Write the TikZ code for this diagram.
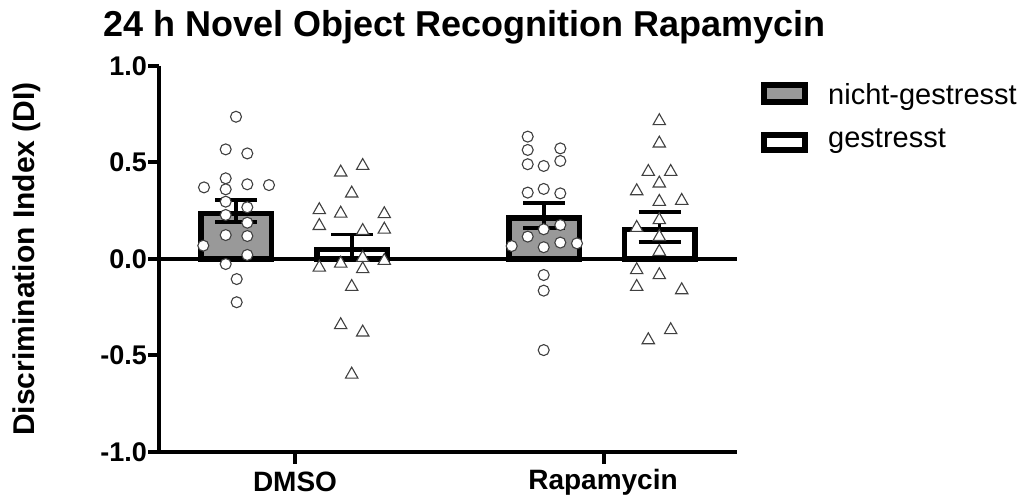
\documentclass[tikz,border=0pt]{standalone}
\usepackage{fontspec}
\setmainfont{Liberation Sans}
\definecolor{barfill}{RGB}{153,153,153}
\definecolor{markline}{RGB}{64,64,64}
\begin{document}
\begin{tikzpicture}[x=1pt,y=1pt,
  axisline/.style={line width=4pt,line join=miter},
  barbox/.style={line width=5.5pt,draw=black,line join=miter},
  errbar/.style={line width=3.5pt,draw=black},
  circmark/.style={draw=markline,fill=white,line width=1.1pt},
  trimark/.style={draw=markline,fill=white,line width=1.1pt,line join=miter},
  ticklabel/.style={font=\bfseries\fontsize{27}{30}\selectfont,anchor=east,inner sep=0pt},
  catlabel/.style={font=\bfseries\fontsize{28}{32}\selectfont,inner sep=0pt},
  legendtext/.style={font=\fontsize{29}{33}\selectfont,anchor=base west,inner sep=0pt},
  legendbox/.style={line width=6pt,draw=black,line join=miter}]
\useasboundingbox (0,0) rectangle (1031,497);

% title
\node[font=\bfseries\fontsize{36}{40}\selectfont,anchor=base west,inner sep=0pt]
  (title) at (103,460) {24 h Novel Object Recognition Rapamycin};

% y axis title
\node[font=\bfseries\fontsize{30}{34}\selectfont,rotate=90,inner sep=0pt]
  (ylabel) at (27,238) {Discrimination Index (DI)};

% plotting area: x in pixels, y in data units (0 at y=238)
\begin{scope}[shift={(0,238)},y=193pt]
  % bars
  \foreach \c/\m/\col in {236/0.249/barfill, 352/0.060/white, 544/0.225/barfill, 659.5/0.166/white}{
    \draw[barbox,fill=\col] (\c-35.25,0) rectangle (\c+35.25,\m-0.012);
  }
  % axes
  \draw[axisline] (159,1) -- (159,-1) -- (737,-1);
  \draw[axisline] (159,0) -- (737,0);
  \foreach \v in {-1,-0.5,0,0.5,1}{
    \draw[axisline] (148,\v) -- (159,\v);
  }
  \foreach \cx in {295,604}{
    \draw[axisline] (\cx,-1) -- (\cx,-1.062);
  }
  \node[ticklabel] (t1)  at (147,1)    {1.0};
  \node[ticklabel] (t2)  at (147,0.5)  {0.5};
  \node[ticklabel] (t3)  at (147,0)    {0.0};
  \node[ticklabel] (t4)  at (147,-0.5) {-0.5};
  \node[ticklabel] (t5)  at (147,-1)   {-1.0};
  % error bars (mean +/- SEM)
  \foreach \c/\m/\s in {236/0.249/0.057, 352/0.060/0.068, 544/0.225/0.065, 659.5/0.166/0.078}{
    \draw[errbar] (\c,\m-\s) -- (\c,\m+\s)
                  (\c-21,\m+\s) -- (\c+21,\m+\s)
                  (\c-21,\m-\s) -- (\c+21,\m-\s);
  }
  % individual animals, DMSO
  \foreach \px/\py in {236/0.737,225.7/0.568,247.3/0.547,225.7/0.418,204/0.371,225.7/0.361,
      247.3/0.387,269/0.383,225.7/0.297,247.3/0.268,225.7/0.228,247.3/0.188,225.7/0.124,
      247.3/0.119,203.3/0.069,247.3/0.021,225.7/-0.026,236.7/-0.104,236.7/-0.224}{
    \draw[circmark] (\px,\py) circle[radius=5.5pt];
  }
  \foreach \px/\py in {362.7/0.492,340.7/0.458,351.7/0.349,319.3/0.263,340.7/0.245,384.3/0.242,
      319.3/0.181,362.7/0.155,384.3/0.162,362.7/0.016,340.7/-0.014,384.3/0.0,319.3/-0.035,
      362.7/-0.043,351.7/-0.135,340.7/-0.333,362.7/-0.371,351.7/-0.589}{
    \draw[trimark] (\px,\py) ++(0,5.5pt) -- ++(-6.2pt,-10.9pt) -- ++(12.4pt,0) -- cycle;
  }
  % individual animals, Rapamycin
  \foreach \px/\py in {527.7/0.634,527.7/0.565,560.3/0.573,560.3/0.508,527.7/0.491,543.7/0.482,
      543.7/0.363,527.7/0.344,560.3/0.340,560.3/0.176,543.7/0.154,527.7/0.116,560.3/0.085,
      577/0.081,511.7/0.067,543.7/0.061,543.7/-0.083,543.7/-0.164,543.7/-0.472}{
    \draw[circmark] (\px,\py) circle[radius=5.5pt];
  }
  \foreach \px/\py in {659.3/0.724,659.3/0.608,648.3/0.461,670.7/0.461,659.3/0.401,636.7/0.361,
      659.3/0.306,681.7/0.311,659.3/0.211,636.7/0.171,659.3/0.124,659.3/0.047,636.7/-0.048,
      659.3/-0.074,636.7/-0.135,681.7/-0.152,670.7/-0.359,648.3/-0.411}{
    \draw[trimark] (\px,\py) ++(0,5.5pt) -- ++(-6.2pt,-10.9pt) -- ++(12.4pt,0) -- cycle;
  }
\end{scope}

% category labels
\node[catlabel] (dmso) at (295,15) {DMSO};
\node[catlabel] (rapa) at (603,15) {Rapamycin};

% legend
\draw[legendbox,fill=barfill] (764,395) rectangle (805,412);
\draw[legendbox,fill=white] (764,347) rectangle (805,362);
\node[legendtext] (lg1) at (828,392) {nicht-gestresst};
\node[legendtext] (lg2) at (828,349) {gestresst};
\end{tikzpicture}
\end{document}
